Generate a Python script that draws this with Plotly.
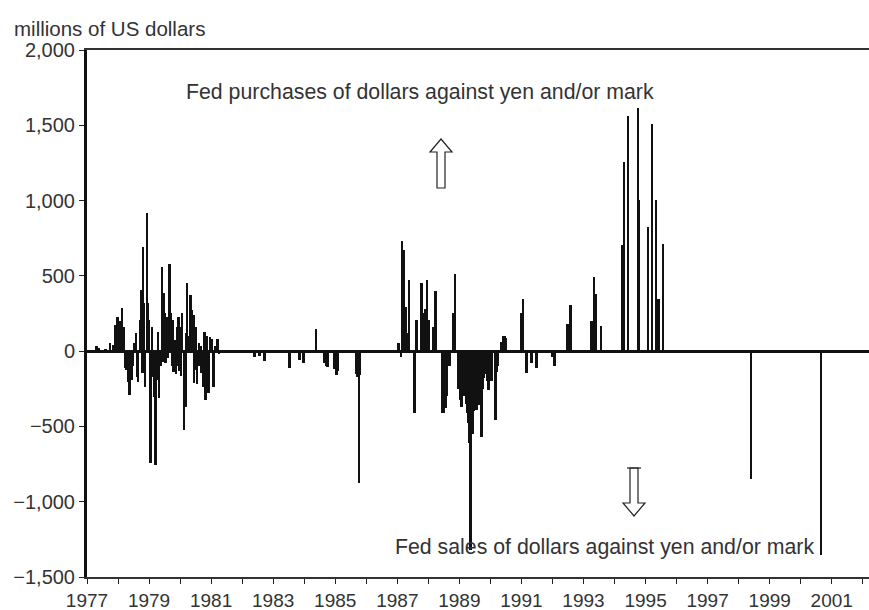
import plotly.graph_objects as go

# ---- data (decimal year, millions of US dollars) ----
years_7781 = [1977.04, 1977.15, 1977.31, 1977.40, 1977.53, 1977.61, 1977.74, 1977.85, 1977.93, 1977.99,
              1978.06, 1978.14, 1978.19, 1978.23, 1978.28, 1978.33, 1978.38, 1978.44, 1978.47, 1978.52,
              1978.58, 1978.61, 1978.65, 1978.71, 1978.74, 1978.77, 1978.79, 1978.81, 1978.84, 1978.88,
              1978.94, 1978.97, 1979.01, 1979.03, 1979.06, 1979.11, 1979.13, 1979.17, 1979.22, 1979.27,
              1979.29, 1979.33, 1979.38, 1979.43, 1979.45, 1979.48, 1979.52, 1979.54, 1979.58, 1979.60,
              1979.67, 1979.72, 1979.74, 1979.77, 1979.79, 1979.85, 1979.87, 1979.90, 1979.92, 1979.95,
              1979.97, 1980.01, 1980.03, 1980.07, 1980.13, 1980.18, 1980.20, 1980.23, 1980.29, 1980.35,
              1980.40, 1980.44, 1980.46, 1980.50, 1980.52, 1980.56, 1980.61, 1980.63, 1980.68, 1980.70,
              1980.74, 1980.80, 1980.82, 1980.86, 1980.88, 1980.92, 1980.98, 1981.04, 1981.06, 1981.09,
              1981.15, 1981.21, 1981.26]
values_7781 = [10, -8, 33, 20, -12, 12, 55, 40, 173, 228,
               200, 285, 161, -111, -124, -204, -292, -190, -100, 53,
               120, -170, -204, 206, 160, 405, -146, 693, 320, -237,
               918, 318, 210, -104, -744, 161, -170, -303, -757, -190,
               128, -312, -100, 558, -71, 385, 252, -77, 228, -44,
               578, 252, -100, 206, -139, 77, -150, 161, -100, 228,
               -133, 161, -166, 252, -525, -370, 121, 451, 100, 372,
               272, 239, -212, 161, -122, -221, 55, -100, 33, -144,
               -237, 128, -325, 100, -210, -279, 95, 80, -210, -237,
               33, 82, -20]

years_8286 = [1982.41, 1982.57, 1982.73, 1983.54, 1983.86, 1983.99, 1984.39, 1984.66, 1984.71, 1984.76,
              1984.98, 1985.05, 1985.10, 1985.69, 1985.72, 1985.77, 1985.81]
values_8286 = [-40, -33, -66, -113, -60, -80, 146, -80, -100, -106,
               -120, -159, -130, -150, -172, -877, -160]

years_8792 = [1987.05, 1987.12, 1987.16, 1987.21, 1987.27, 1987.33, 1987.39, 1987.56, 1987.62, 1987.79,
              1987.83, 1987.88, 1987.91, 1987.96, 1988.02, 1988.18, 1988.24, 1988.46, 1988.51, 1988.56,
              1988.61, 1988.69, 1988.82, 1988.86, 1988.98, 1989.02, 1989.07, 1989.17, 1989.22, 1989.25,
              1989.30, 1989.33, 1989.36, 1989.39, 1989.44, 1989.48, 1989.52, 1989.56, 1989.60, 1989.65,
              1989.68, 1989.72, 1989.77, 1989.81, 1989.86, 1989.91, 1989.94, 1989.99, 1990.04, 1990.17,
              1990.22, 1990.26, 1990.36, 1990.41, 1990.46, 1990.50, 1991.01, 1991.06, 1991.17, 1991.33,
              1991.49, 1992.00, 1992.07]
values_8792 = [53, -37, 732, 671, 294, 120, 471, -413, 206, 451,
               252, 252, 280, 471, 206, 159, 400, -413, -413, -380,
               -300, -100, 252, 511, -250, -325, -370, -300, -350, -413,
               -480, -611, -1321, -450, -547, -400, -350, -392, -300, -360,
               -300, -571, -250, -180, -150, -200, -260, -120, -200, -458,
               -140, -100, 60, 100, 100, 90, 252, 345, -144, -80,
               -113, -40, -100]

years_9201 = [1992.49, 1992.57, 1992.61, 1993.26, 1993.34, 1993.39, 1993.57, 1994.26, 1994.31, 1994.44,
              1994.76, 1994.80, 1995.09, 1995.21, 1995.34, 1995.42, 1995.57, 1998.40, 2000.66]
values_9201 = [179, 305, 305, 199, 491, 378, 166, 704, 1257, 1560,
               1614, 1003, 823, 1507, 1003, 345, 710, -850, -1355]

tick_years = list(range(1977, 2003))
tick_labels = [str(y) if (y - 1977) % 2 == 0 else "" for y in tick_years]
y_ticks = [-1500, -1000, -500, 0, 500, 1000, 1500, 2000]
y_labels = ["\u22121,500", "\u22121,000", "\u2212500", "0", "500", "1,000", "1,500", "2,000"]

years = years_7781 + years_8286 + years_8792 + years_9201
values = values_7781 + values_8286 + values_8792 + values_9201

# ---- layout helpers (pixel -> paper) ----
W, H = 869, 610
L, R, T, B = 87, 0, 50, 33
PW, PH = W - L - R, H - T - B


def px(x):
    return (x - L) / PW


def py(y):
    return (H - B - y) / PH


FONT = "Liberation Sans, Arial, sans-serif"
TXT = "#333333"

fig = go.Figure(go.Bar(x=years, y=values, width=0.062,
                       marker=dict(color="#111111", line=dict(width=0))))


def arrow_path(pts):
    s = "M " + " L ".join(f"{px(a):.5f},{py(b):.5f}" for a, b in pts) + " Z"
    return s


up = [(441, 139), (452, 152), (445, 152), (445, 188), (437, 188), (437, 152), (430, 152)]
down = [(630, 468), (638, 468), (638, 503), (645, 503), (634, 516), (623, 503), (630, 503)]

fig.update_layout(
    width=W, height=H,
    margin=dict(l=L, r=R, t=T, b=B, pad=0),
    paper_bgcolor="white", plot_bgcolor="white",
    showlegend=False, bargap=0,
    font=dict(family=FONT, color=TXT, size=19),
    xaxis=dict(range=[1977, 2002.2], tickmode="array", tickvals=tick_years, ticktext=tick_labels,
               ticks="outside", ticklen=5, tickwidth=1.2, tickcolor="#222",
               showline=True, linecolor="#333", linewidth=2, mirror=True,
               showgrid=False, zeroline=False, tickfont=dict(size=19, color=TXT)),
    yaxis=dict(range=[-1500, 2000], tickmode="array", tickvals=y_ticks, ticktext=y_labels,
               ticks="outside", ticklen=5, tickwidth=1.2, tickcolor="#222",
               showline=True, linecolor="#111", linewidth=3,
               showgrid=False, zeroline=True, zerolinecolor="#111", zerolinewidth=3,
               tickfont=dict(size=20, color=TXT)),
    annotations=[
        dict(text="millions of US dollars", xref="paper", yref="paper", x=px(12), y=py(28),
             xanchor="left", yanchor="middle", showarrow=False, font=dict(size=20.5, color=TXT)),
        dict(text="Fed purchases of dollars against yen and/or mark", xref="paper", yref="paper",
             x=px(420), y=py(92), xanchor="center", yanchor="middle", showarrow=False,
             font=dict(size=21.3, color=TXT)),
        dict(text="Fed sales of dollars against yen and/or mark", xref="paper", yref="paper",
             x=px(604), y=py(547), xanchor="center", yanchor="middle", showarrow=False,
             font=dict(size=21.3, color=TXT)),
    ],
    shapes=[
        dict(type="path", xref="paper", yref="paper", path=arrow_path(up),
             line=dict(color="#222", width=1.2), fillcolor="white"),
        dict(type="path", xref="paper", yref="paper", path=arrow_path(down),
             line=dict(color="#222", width=1.2), fillcolor="white"),
        dict(type="line", xref="paper", yref="paper", x0=px(627), x1=px(641), y0=py(468), y1=py(468),
             line=dict(color="#222", width=1.2)),
    ],
)

fig.write_html("out.html", config={"displayModeBar": False},
               post_script="document.body.style.margin='0';document.body.style.overflow='hidden';")
